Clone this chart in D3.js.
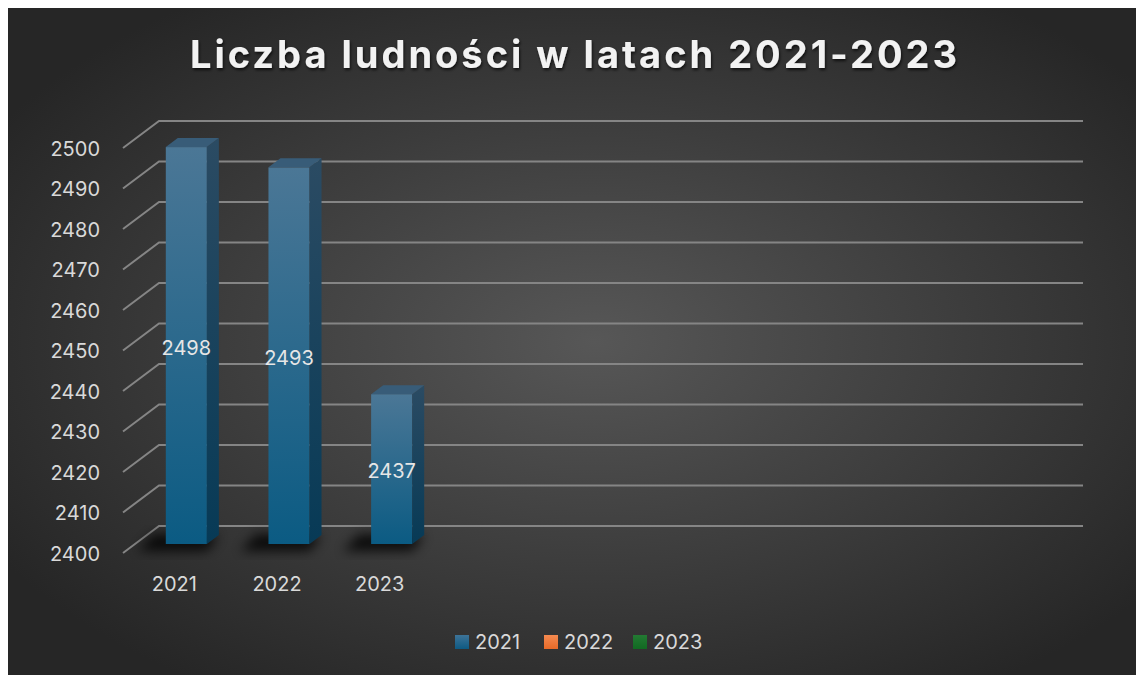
<!DOCTYPE html>
<html>
<head>
<meta charset="utf-8">
<script src="https://cdn.jsdelivr.net/npm/d3@7"></script>
<style>
html, body { margin:0; padding:0; background:#fff; }
svg { display:block; }
text { font-family: "Inter", "Open Sans", "Liberation Sans", sans-serif; }
</style>
</head>
<body>
<svg id="chart" width="1136" height="675"></svg>
<script>
// dane wykresu
var categories = ["2021", "2022", "2023"];
var values = [2498, 2493, 2437];
var seriesNames = ["2021", "2022", "2023"];
var yTicks = [2400, 2410, 2420, 2430, 2440, 2450, 2460, 2470, 2480, 2490, 2500];
var titleText = "Liczba ludności w latach 2021-2023";

var W = 1136, H = 675;
var svg = d3.select("#chart");
var defs = svg.append("defs");

// tlo - gradient radialny
var bg = defs.append("radialGradient").attr("id", "bgGrad")
	.attr("cx", "52%").attr("cy", "50%").attr("r", "62%");
bg.append("stop").attr("offset", "0%").attr("stop-color", "#575757");
bg.append("stop").attr("offset", "100%").attr("stop-color", "#262626");

function vGrad(id, top, bot){
	var g = defs.append("linearGradient").attr("id", id)
		.attr("x1", 0).attr("y1", 0).attr("x2", 0).attr("y2", 1);
	g.append("stop").attr("offset", "0%").attr("stop-color", top);
	g.append("stop").attr("offset", "100%").attr("stop-color", bot);
}
vGrad("frontGrad", "#4b7796", "#0b5b83");
vGrad("sideGrad", "#2b4b63", "#073a56");
vGrad("leg0", "#3d7398", "#0e5a83");
vGrad("leg1", "#f58a50", "#e86a28");
vGrad("leg2", "#237a33", "#116a22");

defs.append("filter").attr("id", "blur").attr("x", "-50%").attr("y", "-50%")
	.attr("width", "200%").attr("height", "200%")
	.append("feGaussianBlur").attr("stdDeviation", 6);

var ts = defs.append("filter").attr("id", "tshadow").attr("x", "-10%").attr("y", "-30%")
	.attr("width", "120%").attr("height", "160%");
ts.append("feDropShadow").attr("dx", 1).attr("dy", 2).attr("stdDeviation", 1.5)
	.attr("flood-color", "#000").attr("flood-opacity", 0.7);

svg.append("rect").attr("x", 8).attr("y", 8).attr("width", W - 8).attr("height", H - 8)
	.attr("fill", "url(#bgGrad)");

// geometria 3D
var x0 = 123, xEnd = 1047;           // przednia krawedz podlogi
var depth = [36, -27];               // przesuniecie sciany tylnej
var slots = 9;
var step = (xEnd - x0) / slots;
var barOff = [depth[0] / 3, depth[1] / 3];

var y = d3.scaleLinear().domain([2400, 2500]).range([553, 148]);
var x = d3.scaleBand().domain(categories)
	.range([x0, x0 + step * categories.length])
	.paddingInner(0.6).paddingOuter(0.3);

// siatka
var grid = svg.append("g").attr("class", "grid");
yTicks.forEach(function(t){
	var yy = y(t);
	grid.append("path")
		.attr("d", "M" + x0 + "," + yy + "L" + (x0 + depth[0]) + "," + (yy + depth[1]) +
			"L" + (xEnd + depth[0]) + "," + (yy + depth[1]))
		.attr("fill", "none").attr("stroke", "#858585").attr("stroke-width", 2);
});

// osie
var yAxis = svg.append("g").attr("transform", "translate(" + x0 + ",0)")
	.call(d3.axisLeft(y).tickValues(yTicks).tickSize(0).tickPadding(23).tickFormat(d3.format("d")));
yAxis.select(".domain").remove();
yAxis.selectAll("text").attr("fill", "#d9d9d9").attr("font-size", 20).attr("dy", "0.36em")
	.attr("font-family", "Roboto, sans-serif");

var xAxis = svg.append("g").attr("transform", "translate(0," + y(2400) + ")")
	.call(d3.axisBottom(x).tickSize(0).tickPadding(24));
xAxis.select(".domain").remove();
xAxis.selectAll("text").attr("fill", "#d9d9d9").attr("font-size", 20)
	.attr("font-family", "Roboto, sans-serif");

// slupki
var bw = x.bandwidth();
var bars = svg.selectAll(".bar").data(values).enter().append("g").attr("class", "bar");

bars.each(function(v, i){
	var g = d3.select(this);
	var fx = x(categories[i]) + barOff[0];
	var fy = y(v) + barOff[1];
	var by = y(2400) + barOff[1];
	var dx = barOff[0], dy = barOff[1];

	// cien
	g.append("path")
		.attr("d", "M" + (fx - 28) + "," + (by + 7) + "L" + (fx + bw) + "," + (by + 7) +
			"L" + (fx + bw + dx) + "," + (by + dy + 1) + "L" + (fx - 12) + "," + (by + dy - 1) + "Z")
		.attr("fill", "#000").attr("opacity", 0.8).attr("filter", "url(#blur)");

	g.append("rect").attr("x", fx).attr("y", fy).attr("width", bw).attr("height", by - fy)
		.attr("fill", "url(#frontGrad)");
	g.append("path")
		.attr("d", "M" + (fx + bw) + "," + fy + "L" + (fx + bw + dx) + "," + (fy + dy) +
			"L" + (fx + bw + dx) + "," + (by + dy) + "L" + (fx + bw) + "," + by + "Z")
		.attr("fill", "url(#sideGrad)");
	g.append("path")
		.attr("d", "M" + fx + "," + fy + "L" + (fx + dx) + "," + (fy + dy) +
			"L" + (fx + bw + dx) + "," + (fy + dy) + "L" + (fx + bw) + "," + fy + "Z")
		.attr("fill", "#385c78");

	g.append("text")
		.attr("x", fx + bw / 2).attr("y", (fy + by) / 2 + 2).attr("dy", "0.36em")
		.attr("text-anchor", "middle").attr("fill", "#e6e6e6").attr("font-size", 20)
		.attr("font-family", "Roboto, sans-serif")
		.text(v);
});

// tytul
svg.append("text")
	.attr("x", 575).attr("y", 68).attr("text-anchor", "middle")
	.attr("font-size", 38).attr("font-weight", 700).attr("letter-spacing", 3)
	.attr("fill", "#f2f2f2").attr("filter", "url(#tshadow)")
	.text(titleText);

// legenda
var legend = svg.append("g").attr("transform", "translate(455,635)");
var li = legend.selectAll("g").data(seriesNames).enter().append("g")
	.attr("transform", function(d, i){ return "translate(" + (i * 89) + ",0)"; });
li.append("rect").attr("width", 14).attr("height", 14)
	.attr("fill", function(d, i){ return "url(#leg" + i + ")"; });
li.append("text").attr("x", 20).attr("y", 14).attr("fill", "#d9d9d9").attr("font-size", 20)
	.attr("font-family", "Roboto, sans-serif")
	.text(function(d){ return d; });
</script>
</body>
</html>
